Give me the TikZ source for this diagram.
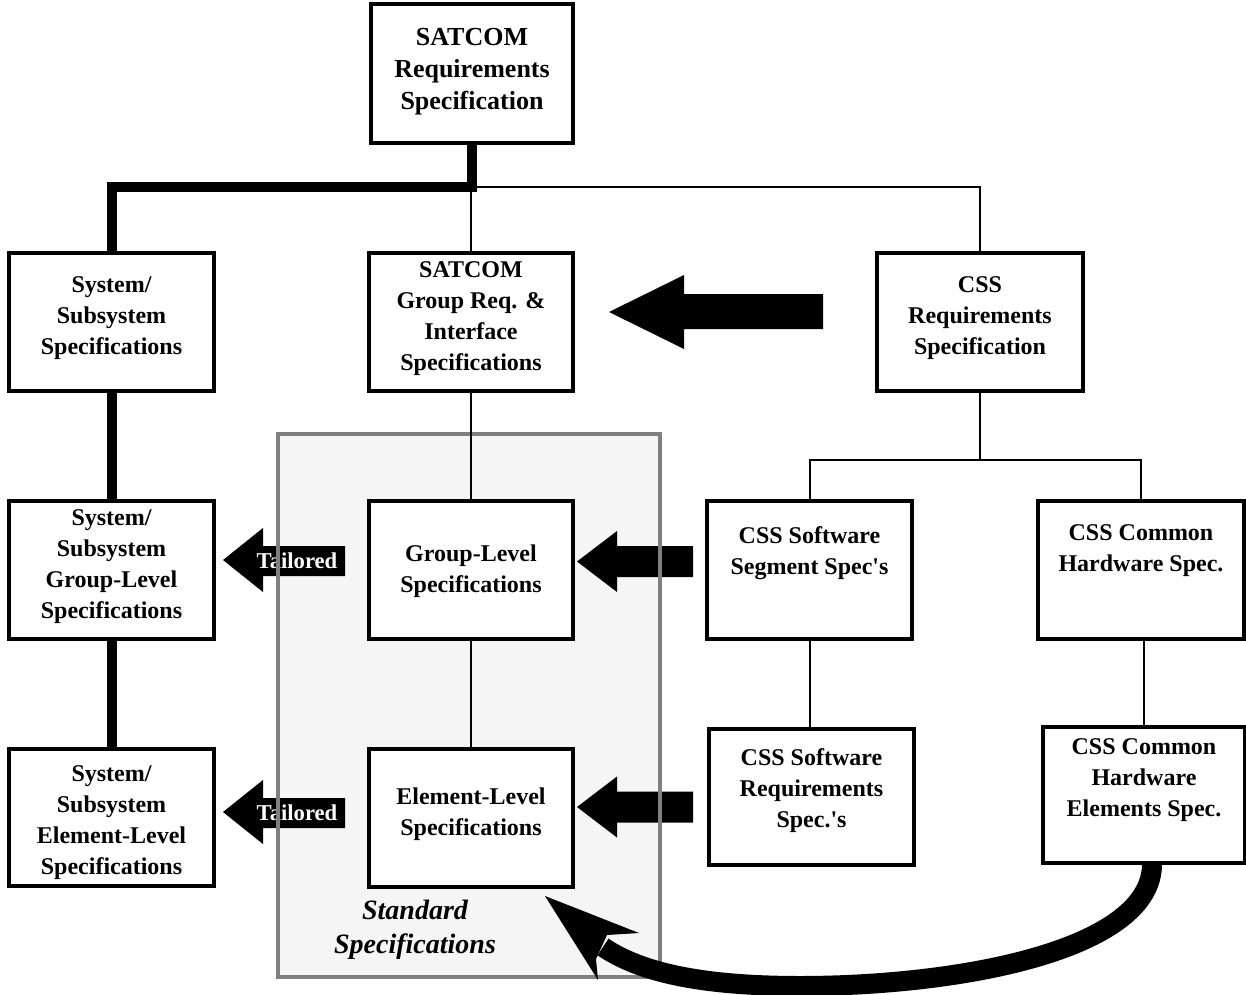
\documentclass[tikz,border=0pt]{standalone}
\usepackage{fontspec}
\setmainfont{Liberation Serif}
\usetikzlibrary{calc}
\definecolor{grayfill}{HTML}{F5F5F5}
\definecolor{grayline}{HTML}{808080}
\begin{document}
\begin{tikzpicture}[x=0.75pt,y=-0.75pt,
  box/.style={draw, line width=1.9pt, fill=white, minimum width=152.25pt, minimum height=102pt, inner sep=0pt},
  txt/.style={align=center, font=\fontsize{18}{23.25}\selectfont\bfseries, inner sep=0pt},
  toptxt/.style={align=center, font=\fontsize{19.5}{24}\selectfont\bfseries, inner sep=0pt},
  thin/.style={line width=1.5pt},
  thick/.style={line width=7.5pt},
  blockarrow/.style={fill=black, draw=none},
  tailtxt/.style={text=white, font=\fontsize{17}{19}\selectfont\bfseries, inner sep=0pt}
]
\useasboundingbox (0,0) rectangle (1246,995);

% standard specifications area (fill)
\fill[grayfill] (278,434) rectangle (660,977);

% block arrows
\fill[blockarrow] (609,312) -- (684,275) -- (684,294) -- (823,294) -- (823,329) -- (684,329) -- (684,349) -- cycle;
\fill[blockarrow] (577,561.5) -- (617,531) -- (617,546) -- (693,546) -- (693,577) -- (617,577) -- (617,592) -- cycle;
\fill[blockarrow] (577,807) -- (617,776.5) -- (617,791.5) -- (693,791.5) -- (693,822.5) -- (617,822.5) -- (617,837.5) -- cycle;

% tailored arrows
\fill[blockarrow] (223,560) -- (263,528) -- (263,546) -- (345,546) -- (345,576) -- (263,576) -- (263,592) -- cycle;
\node[tailtxt] (tail1) at (297,561) {Tailored};
\fill[blockarrow] (223,812) -- (263,780) -- (263,798) -- (345,798) -- (345,828) -- (263,828) -- (263,844) -- cycle;
\node[tailtxt] (tail2) at (297,813) {Tailored};

% standard specifications border
\draw[grayline, line width=3pt] (278,434) rectangle (660,977);
\node[align=center, font=\fontsize{21}{25.5}\selectfont\bfseries\itshape, inner sep=0pt] (std) at (415,930) {Standard\\Specifications};

% boxes
\node[box, minimum width=150pt, minimum height=102.75pt] (top) at (472,73.5) {};
\node[box] (sys1) at (111.5,322) {};
\node[box, minimum width=151.5pt] (grp1) at (471,322) {};
\node[box, minimum width=153pt] (css) at (980,322) {};
\node[box] (sys2) at (111.5,570) {};
\node[box, minimum width=151.5pt] (grp2) at (471,570) {};
\node[box] (sw1) at (809.5,570) {};
\node[box, minimum width=153pt] (hw1) at (1141,570) {};
\node[box, minimum height=101.25pt] (sys3) at (111.5,817.5) {};
\node[box, minimum width=151.5pt] (grp3) at (471,818) {};
\node[box, minimum height=100.5pt] (sw2) at (811.5,797) {};
\node[box, minimum width=150pt, minimum height=100.5pt] (hw2) at (1144,795) {};

% connectors
\coordinate (j1) at (472,187);
\coordinate (j2) at (css.south |- 0,460);
\draw[thin] (j1) -| (css.north);
\draw[thin] (grp1.north |- j1) -- (grp1.north);
\draw[thick] (top.south) -- (j1) -| (sys1.north);
\draw[thick] (sys1.south) -- (sys2.north);
\draw[thick] (sys2.south) -- (sys3.north);
\draw[thin] (grp1.south) -- (grp2.north);
\draw[thin] (grp2.south) -- (grp3.north);
\draw[thin] (css.south) -- (j2);
\draw[thin] (sw1.north) |- (j2) -| (hw1.north);
\draw[thin] (sw1.south) -- (sw1.south |- sw2.north);
\draw[thin] (hw2.north |- hw1.south) -- (hw2.north);

% redraw box borders on top of connectors
\foreach \n in {top,sys1,grp1,css,sys2,grp2,sw1,hw1,sys3,grp3,sw2,hw2}
  \draw[line width=1.9pt] (\n.north west) rectangle (\n.south east);

% curved arrow
\draw[line width=15pt] ([xshift=6pt]hw2.south) .. controls (1153,950) and (960,986) .. (800,986) .. controls (700,986) and (640,972) .. (603,947);
\fill (545,896) -- (639,933) -- (607,935) -- (596,959) -- (598,980) -- cycle;

% texts
\node[toptxt] (top-t) at ($(top)+(0,-2)$) {SATCOM\\Requirements\\Specification};
\node[txt] (sys1-t) at ($(sys1)+(0,-4)$) {System/\\Subsystem\\Specifications};
\node[txt] (grp1-t) at ($(grp1)+(0,-3)$) {SATCOM\\Group Req. \&\\Interface\\Specifications};
\node[txt] (css-t) at ($(css)+(0,-4)$) {CSS\\Requirements\\Specification};
\node[txt] (sys2-t) at ($(sys2)+(0,-3)$) {System/\\Subsystem\\Group-Level\\Specifications};
\node[txt] (grp2-t) at ($(grp2)+(0,1)$) {Group-Level\\Specifications};
\node[txt] (sw1-t) at ($(sw1)+(0,-17)$) {CSS Software\\Segment Spec\textquotesingle s};
\node[txt] (hw1-t) at ($(hw1)+(0,-19)$) {CSS Common\\Hardware Spec.};
\node[txt] (sys3-t) at ($(sys3)+(0,5)$) {System/\\Subsystem\\Element-Level\\Specifications};
\node[txt] (grp3-t) at ($(grp3)+(0,-4)$) {Element-Level\\Specifications};
\node[txt] (sw2-t) at ($(sw2)+(0,-6)$) {CSS Software\\Requirements\\Spec.\textquotesingle s};
\node[txt] (hw2-t) at ($(hw2)+(0,-15)$) {CSS Common\\Hardware\\Elements Spec.};
\end{tikzpicture}
\end{document}
